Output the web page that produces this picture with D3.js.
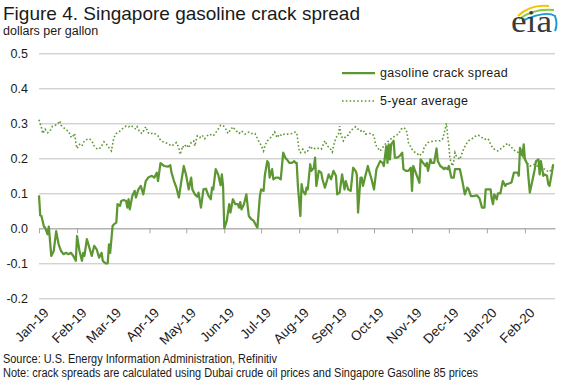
<!DOCTYPE html>
<html>
<head>
<meta charset="utf-8">
<script src="https://cdn.jsdelivr.net/npm/d3@7"></script>
<style>
  body { margin: 0; background: #fff; }
  text { font-family: "Liberation Sans", Arial, sans-serif; fill: #1a1a1a; }
</style>
</head>
<body>
<script>
// days since 2019-01-01, dollars per gallon
var crackSpread = [
  [0,0.094],[1,0.037],[2,0.035],[4,0.005],[5,0.002],[7,-0.017],[8,0.005],[10,-0.079],[12,-0.065],[14,-0.008],
  [16,-0.046],[18,-0.065],[20,-0.074],[22,-0.07],[24,-0.074],[26,-0.07],[28,-0.079],[30,-0.093],[31,-0.022],[33,-0.065],
  [35,-0.093],[36,-0.07],[37,-0.079],[39,-0.031],[41,-0.055],[43,-0.079],[45,-0.05],[47,-0.06],[49,-0.084],[51,-0.07],
  [52,-0.093],[54,-0.1],[56,-0.1],[57,-0.046],[58,-0.07],[60,0.007],[61,0.011],[63,0.016],[64,0.069],[66,0.064],
  [67,0.078],[69,0.081],[71,0.078],[72,0.059],[73,0.083],[74,0.054],[76,0.092],[78,0.107],[79,0.088],[81,0.111],
  [83,0.121],[85,0.097],[87,0.135],[89,0.145],[92,0.15],[94,0.145],[96,0.159],[97,0.135],[99,0.186],[102,0.178],
  [105,0.176],[107,0.18],[108,0.159],[110,0.135],[112,0.116],[114,0.088],[116,0.135],[118,0.178],[120,0.15],[122,0.111],
  [124,0.145],[125,0.111],[127,0.097],[129,0.09],[130,0.102],[132,0.059],[134,0.111],[136,0.113],[138,0.094],[140,0.083],
  [141,0.116],[142,0.111],[144,0.169],[146,0.154],[148,0.123],[149,0.154],[150,0.121],[151,0.0],[153,0.021],[155,0.069],
  [156,0.045],[158,0.083],[160,0.069],[162,0.069],[163,0.059],[164,0.075],[165,0.054],[167,0.069],[169,0.097],[170,0.064],
  [171,0.035],[173,0.026],[175,0.021],[177,0.007],[178,0.002],[180,0.092],[181,0.111],[183,0.107],[184,0.15],[186,0.192],
  [187,0.187],[188,0.145],[190,0.169],[191,0.14],[193,0.145],[195,0.145],[197,0.14],[199,0.216],[201,0.2],[202,0.197],
  [204,0.187],[206,0.187],[208,0.192],[209,0.187],[210,0.187],[211,0.121],[213,0.035],[214,0.126],[215,0.107],[217,0.097],
  [218,0.116],[219,0.111],[221,0.183],[222,0.164],[224,0.173],[225,0.202],[226,0.121],[228,0.164],[230,0.159],[231,0.14],
  [233,0.116],[235,0.14],[236,0.154],[238,0.14],[240,0.164],[242,0.15],[243,0.097],[245,0.102],[247,0.154],[249,0.111],
  [250,0.135],[252,0.111],[254,0.107],[256,0.173],[258,0.164],[259,0.154],[260,0.045],[262,0.145],[263,0.145],[264,0.121],
  [266,0.15],[268,0.178],[269,0.164],[271,0.14],[273,0.111],[275,0.169],[278,0.192],[280,0.187],[281,0.178],[283,0.235],
  [284,0.187],[285,0.24],[286,0.197],[287,0.24],[289,0.25],[290,0.202],[292,0.202],[294,0.207],[296,0.216],[297,0.169],
  [299,0.164],[301,0.164],[303,0.173],[304,0.107],[305,0.178],[307,0.159],[309,0.14],[310,0.13],[311,0.197],[313,0.187],
  [315,0.178],[316,0.187],[317,0.164],[319,0.197],[320,0.187],[322,0.187],[324,0.228],[325,0.192],[327,0.178],[329,0.173],
  [330,0.169],[331,0.173],[333,0.169],[334,0.178],[336,0.145],[338,0.145],[339,0.169],[341,0.169],[343,0.169],[345,0.135],
  [347,0.097],[349,0.116],[350,0.113],[352,0.092],[354,0.092],[357,0.094],[359,0.085],[361,0.059],[363,0.059],[364,0.111],
  [366,0.111],[368,0.111],[369,0.083],[370,0.069],[371,0.097],[373,0.083],[374,0.1],[376,0.1],[378,0.135],[380,0.121],
  [381,0.126],[383,0.128],[385,0.131],[387,0.159],[390,0.159],[391,0.15],[392,0.23],[394,0.207],[395,0.24],[396,0.197],
  [398,0.183],[399,0.14],[400,0.102],[402,0.135],[404,0.169],[405,0.192],[407,0.197],[408,0.154],[409,0.192],[411,0.15],
  [412,0.154],[414,0.15],[415,0.126],[416,0.121],[418,0.159],[419,0.183]
];

var fiveYearAvg = [
  [0,0.31],[2,0.288],[3,0.271],[5,0.283],[7,0.273],[9,0.278],[11,0.292],[13,0.294],[15,0.297],[17,0.307],
  [18,0.294],[20,0.288],[22,0.281],[24,0.278],[26,0.262],[27,0.259],[29,0.271],[30,0.245],[31,0.228],[33,0.24],
  [35,0.235],[37,0.25],[39,0.254],[41,0.256],[43,0.25],[45,0.235],[47,0.228],[49,0.226],[51,0.235],[53,0.247],
  [55,0.24],[57,0.23],[59,0.221],[60,0.24],[61,0.259],[63,0.271],[65,0.275],[67,0.281],[69,0.288],[71,0.292],
  [73,0.29],[75,0.294],[77,0.288],[79,0.283],[80,0.29],[82,0.275],[84,0.271],[87,0.29],[89,0.273],[91,0.269],
  [93,0.273],[95,0.269],[97,0.264],[99,0.252],[101,0.247],[103,0.245],[106,0.24],[108,0.235],[110,0.24],[112,0.245],
  [114,0.23],[115,0.211],[117,0.235],[118,0.23],[120,0.24],[122,0.23],[124,0.245],[126,0.25],[127,0.235],[129,0.264],
  [131,0.259],[133,0.266],[135,0.256],[137,0.264],[139,0.269],[142,0.264],[145,0.278],[148,0.294],[150,0.294],[152,0.285],
  [154,0.271],[156,0.281],[158,0.29],[160,0.281],[163,0.271],[165,0.278],[168,0.269],[171,0.275],[173,0.271],[176,0.271],
  [179,0.25],[181,0.237],[183,0.221],[184,0.235],[186,0.25],[188,0.256],[190,0.264],[192,0.275],[194,0.259],[196,0.269],
  [198,0.264],[200,0.269],[203,0.269],[206,0.271],[209,0.275],[210,0.273],[211,0.25],[212,0.221],[213,0.216],[215,0.226],
  [217,0.216],[219,0.221],[221,0.235],[223,0.226],[226,0.23],[228,0.228],[230,0.226],[233,0.25],[235,0.235],[237,0.23],
  [239,0.218],[240,0.235],[242,0.259],[244,0.269],[245,0.292],[246,0.269],[248,0.25],[250,0.264],[252,0.266],[254,0.278],
  [256,0.285],[258,0.29],[260,0.283],[262,0.278],[264,0.281],[266,0.269],[269,0.271],[271,0.271],[273,0.264],[274,0.245],
  [275,0.235],[278,0.221],[280,0.23],[282,0.24],[285,0.25],[287,0.256],[290,0.264],[293,0.269],[295,0.283],[297,0.288],
  [299,0.283],[300,0.271],[301,0.245],[304,0.226],[306,0.218],[308,0.214],[310,0.207],[311,0.211],[313,0.218],[314,0.233],
  [317,0.245],[319,0.247],[322,0.25],[324,0.25],[327,0.25],[329,0.256],[331,0.283],[332,0.3],[333,0.264],[334,0.235],
  [335,0.197],[337,0.178],[338,0.192],[339,0.216],[340,0.207],[343,0.197],[344,0.207],[346,0.226],[348,0.24],[350,0.25],
  [353,0.256],[355,0.262],[358,0.266],[361,0.259],[363,0.254],[366,0.256],[368,0.24],[370,0.228],[372,0.224],[374,0.221],
  [376,0.226],[377,0.23],[380,0.237],[382,0.243],[384,0.235],[386,0.228],[388,0.221],[390,0.218],[393,0.209],[396,0.197],
  [398,0.186],[400,0.178],[402,0.18],[404,0.183],[406,0.178],[408,0.176],[410,0.173],[412,0.169],[414,0.164],[416,0.161],
  [418,0.171],[419,0.178]
];

var yTicks = [-0.2, -0.1, 0.0, 0.1, 0.2, 0.3, 0.4, 0.5];
var monthLabels = ["Jan-19","Feb-19","Mar-19","Apr-19","May-19","Jun-19","Jul-19","Aug-19",
                   "Sep-19","Oct-19","Nov-19","Dec-19","Jan-20","Feb-20"];
var seriesNames = ["gasoline crack spread", "5-year average"];

var green = "#5d9732";
var start = new Date(2019, 0, 1);
function toDate(d) { return d3.timeDay.offset(start, d[0]); }

var svg = d3.select("body")
  .append("svg")
    .attr("width", 575)
    .attr("height", 384);

var x = d3.scaleTime()
  .domain([start, new Date(2020, 1, 25, 12)])
  .range([39, 555]);

var y = d3.scaleLinear()
  .domain([-0.2, 0.5])
  .range([298.3, 53.3]);

// title block
svg.append("text")
  .attr("x", 3)
  .attr("y", 20)
  .attr("font-size", 19)
  .text("Figure 4. Singapore gasoline crack spread");

svg.append("text")
  .attr("x", 3)
  .attr("y", 35)
  .attr("font-size", 12.5)
  .text("dollars per gallon");

// gridlines + y labels
var yAxis = svg.append("g")
  .attr("transform", "translate(39,0)")
  .call(d3.axisLeft(y)
    .tickValues(yTicks)
    .tickSize(-(555 - 39))
    .tickPadding(11)
    .tickFormat(function(d) { return d.toFixed(1); }));

yAxis.select(".domain").remove();
yAxis.selectAll(".tick line")
  .attr("stroke", "#bfbfbf");
yAxis.selectAll(".tick text")
  .attr("font-size", 12.5)
  .attr("font-family", "Liberation Sans, Arial, sans-serif")
  .attr("fill", "#1a1a1a");

// zero axis with month ticks
var months = d3.timeMonth.range(start, new Date(2020, 1, 2));

var xAxis = svg.append("g")
  .attr("transform", "translate(0," + y(0) + ")")
  .call(d3.axisBottom(x)
    .tickValues(months)
    .tickSize(5)
    .tickSizeOuter(0)
    .tickFormat(""));

xAxis.select(".domain").attr("stroke", "#a6a6a6");
xAxis.selectAll(".tick line").attr("stroke", "#a6a6a6");

// month labels at the bottom
svg.append("g")
  .selectAll("text")
  .data(months)
  .enter()
  .append("text")
    .attr("transform", function(d) { return "translate(" + (x(d) + 3) + ",306) rotate(-45)"; })
    .attr("text-anchor", "end")
    .attr("dy", "0.8em")
    .attr("font-size", 13.5)
    .text(function(d, i) { return monthLabels[i]; });

// lines
var line = d3.line()
  .x(function(d) { return x(toDate(d)); })
  .y(function(d) { return y(d[1]); });

svg.append("path")
  .datum(fiveYearAvg)
  .attr("d", line)
  .attr("fill", "none")
  .attr("stroke", green)
  .attr("stroke-width", 1.6)
  .attr("stroke-dasharray", "1.6,2.2");

svg.append("path")
  .datum(crackSpread)
  .attr("d", line)
  .attr("fill", "none")
  .attr("stroke", green)
  .attr("stroke-width", 2.25)
  .attr("stroke-linejoin", "round");

// legend
var legend = svg.append("g");

legend.append("line")
  .attr("x1", 342).attr("x2", 375)
  .attr("y1", 73).attr("y2", 73)
  .attr("stroke", green)
  .attr("stroke-width", 2.25);

legend.append("line")
  .attr("x1", 342).attr("x2", 375)
  .attr("y1", 101).attr("y2", 101)
  .attr("stroke", green)
  .attr("stroke-width", 1.6)
  .attr("stroke-dasharray", "1.6,2.2");

legend.selectAll("text")
  .data(seriesNames)
  .enter()
  .append("text")
    .attr("x", 380)
    .attr("y", function(d, i) { return 77 + i * 28; })
    .attr("font-size", 12.5)
    .attr("letter-spacing", 0.3)
    .text(function(d) { return d; });

// footer
svg.append("text")
  .attr("x", 3)
  .attr("y", 363)
  .attr("font-size", 12)
  .attr("textLength", 274)
  .attr("lengthAdjust", "spacingAndGlyphs")
  .text("Source: U.S. Energy Information Administration, Refinitiv");

svg.append("text")
  .attr("x", 3)
  .attr("y", 377)
  .attr("font-size", 12)
  .attr("textLength", 475)
  .attr("lengthAdjust", "spacingAndGlyphs")
  .text("Note: crack spreads are calculated using Dubai crude oil prices and Singapore Gasoline 85 prices");

// eia logo
var logo = svg.append("g");

logo.append("path")
  .attr("d", "M518,16 Q530,4 549,6")
  .attr("fill", "none").attr("stroke", "#f5c400").attr("stroke-width", 2);
logo.append("path")
  .attr("d", "M519,19 Q534,8 554,10")
  .attr("fill", "none").attr("stroke", "#8cc63e").attr("stroke-width", 2);
logo.append("path")
  .attr("d", "M522,21 Q546,10 555,16 Q558,24 555,31")
  .attr("fill", "none").attr("stroke", "#1c9ad6").attr("stroke-width", 2);

logo.append("text")
  .attr("x", 511)
  .attr("y", 32)
  .attr("font-size", 31)
  .attr("textLength", 41)
  .attr("lengthAdjust", "spacingAndGlyphs")
  .style("font-family", "'Liberation Serif', serif")
  .style("fill", "#3a3a3a")
  .text("eia");
</script>
</body>
</html>
